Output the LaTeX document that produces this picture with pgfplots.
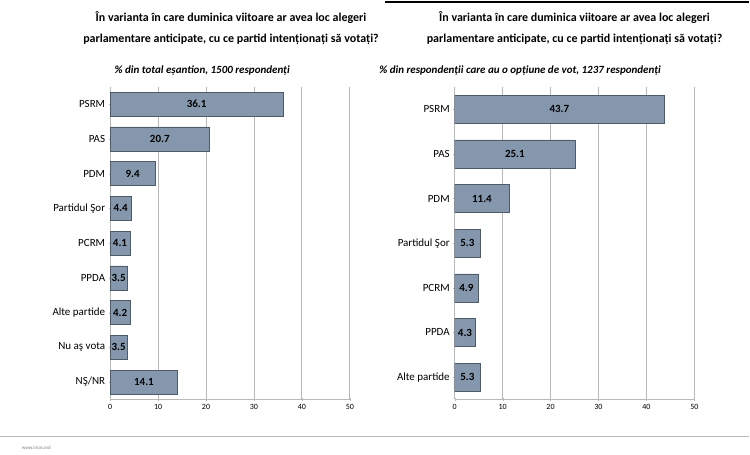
\documentclass[border=0pt]{standalone}
\usepackage{pgfplots}
\pgfplotsset{compat=1.18}
\usepackage{fontspec}
\setmainfont{Carlito}
\definecolor{barc}{HTML}{8497AD}
\definecolor{gridc}{HTML}{B8B8B8}
\begin{document}
\begin{tikzpicture}
\fill[white] (0pt,0pt) rectangle (750pt,455pt);
\draw[black,line width=1.5pt] (385pt,453pt) -- (750pt,453pt);
\draw[gridc,line width=0.6pt] (0pt,18pt) -- (750pt,18pt);
\node[anchor=west,font=\fontsize{5}{6}\selectfont,gray] at (18pt,7pt) {www.imas.md};
\node[align=center,font=\fontsize{12}{21}\selectfont\bfseries] at (231pt,427pt) {În varianta în care duminica viitoare ar avea loc alegeri\\parlamentare anticipate, cu ce partid intenționați să votați?};
\node[align=center,font=\fontsize{12}{21}\selectfont\bfseries] at (575pt,427pt) {În varianta în care duminica viitoare ar avea loc alegeri\\parlamentare anticipate, cu ce partid intenționați să votați?};
\node[anchor=west,font=\fontsize{11}{13}\selectfont\bfseries\itshape] at (111pt,384pt) {\% din total eșantion, 1500 respondenți};
\node[anchor=west,font=\fontsize{11}{13}\selectfont\bfseries\itshape] at (376pt,384pt) {\% din respondenții care au o opțiune de vot, 1237 respondenți};
\pgfplotsset{mystyle/.style={
  scale only axis, xmin=0, xmax=50, xtick={0,10,...,50},
  xmajorgrids, grid style={gridc,line width=0.8pt},
  axis x line=bottom, axis y line=left, axis line style={gridc,line width=0.8pt,-},
  tick style={gridc},
  major tick length=3pt,
  y dir=reverse, ytick=data,
  ticklabel style={font=\fontsize{11}{12}\selectfont},
  x tick label style={font=\fontsize{8}{10}\selectfont},
  /pgf/number format/assume math mode=true,
}, lab/.style={only marks, mark=none, nodes near coords, point meta=explicit symbolic,
  every node near coord/.append style={font=\fontsize{11}{12}\selectfont\bfseries,black,anchor=center}}}
\begin{axis}[mystyle, at={(110pt,55pt)}, anchor=south west, width=240pt, height=313pt,
  ymin=-0.5, ymax=8.5,
  yticklabels={PSRM,PAS,PDM,Partidul Şor,PCRM,PPDA,Alte partide,Nu aş vota,NŞ/NR}]
\addplot[xbar, bar width=24pt, fill=barc, draw=barc!60!black, line width=0.5pt]
 coordinates {(36.1,0) (20.7,1) (9.4,2) (4.4,3) (4.1,4) (3.5,5) (4.2,6) (3.5,7) (14.1,8)};
\addplot[lab] coordinates {(18.05,0)[36.1] (10.35,1)[20.7] (4.7,2)[9.4] (2.2,3)[4.4] (2.05,4)[4.1] (1.75,5)[3.5] (2.1,6)[4.2] (1.75,7)[3.5] (7.05,8)[14.1]};
\end{axis}
\begin{axis}[mystyle, at={(455pt,55pt)}, anchor=south west, width=240pt, height=313pt,
  ymin=-0.5, ymax=6.5,
  yticklabels={PSRM,PAS,PDM,Partidul Şor,PCRM,PPDA,Alte partide}]
\addplot[xbar, bar width=28pt, fill=barc, draw=barc!60!black, line width=0.5pt]
 coordinates {(43.7,0) (25.1,1) (11.4,2) (5.3,3) (4.9,4) (4.3,5) (5.3,6)};
\addplot[lab] coordinates {(21.85,0)[43.7] (12.55,1)[25.1] (5.7,2)[11.4] (2.65,3)[5.3] (2.45,4)[4.9] (2.15,5)[4.3] (2.65,6)[5.3]};
\end{axis}
\end{tikzpicture}
\end{document}
